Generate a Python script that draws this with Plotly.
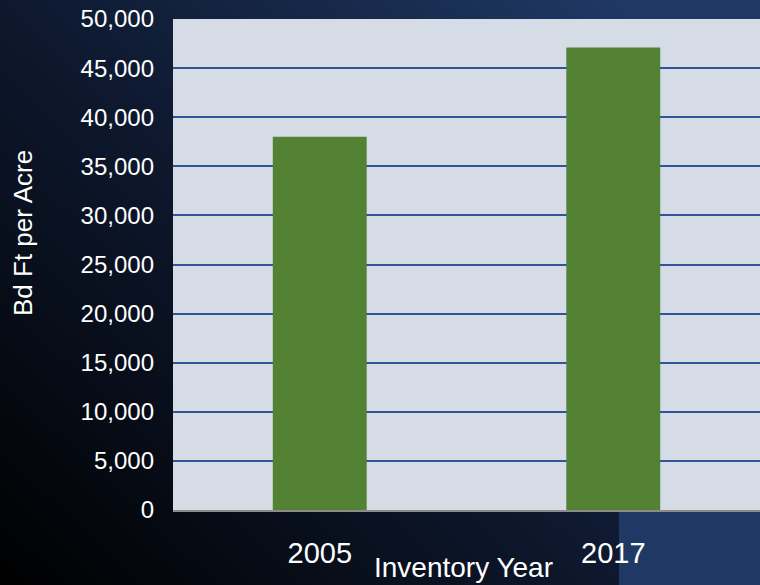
import base64
import plotly.graph_objects as go

# Inventory results: board feet per acre by inventory year
years = ["2005", "2017"]
bdft_per_acre = [38000, 47100]
y_ticks = [0, 5000, 10000, 15000, 20000, 25000, 30000, 35000, 40000, 45000, 50000]

W, H = 760, 585
ML, MR, MT, MB = 173, 0, 19, 75
PW, PH = W - ML - MR, H - MT - MB

FONT = "Liberation Sans, Arial, sans-serif"

# Slide backdrop: diagonal dark gradient with a flat navy strip on the right
svg = f"""<svg xmlns='http://www.w3.org/2000/svg' width='{W}' height='{H}' viewBox='0 0 {W} {H}'>
<defs><linearGradient id='g' x1='0' y1='1' x2='1' y2='0'>
<stop offset='0' stop-color='#000000'/>
<stop offset='0.55' stop-color='#0f1b33'/>
<stop offset='1' stop-color='#1f3864'/>
</linearGradient></defs>
<rect x='0' y='0' width='{W}' height='{H}' fill='#203864'/>
<rect x='0' y='0' width='619' height='{H}' fill='url(#g)'/>
</svg>"""
bg_src = "data:image/svg+xml;base64," + base64.b64encode(svg.encode()).decode()

fig = go.Figure(
    go.Bar(
        x=years,
        y=bdft_per_acre,
        marker=dict(color="#548235", line=dict(width=0)),
        width=0.32,
        hoverinfo="x+y",
    )
)

fig.add_layout_image(
    source=bg_src,
    xref="paper", yref="paper",
    x=-ML / PW, y=1 + MT / PH,
    sizex=W / PW, sizey=H / PH,
    xanchor="left", yanchor="top",
    sizing="stretch", layer="below",
)

# Plot area fill drawn above the backdrop
fig.add_shape(
    type="rect", xref="x domain", yref="y domain",
    x0=0, x1=1, y0=0, y1=1,
    fillcolor="#d6dce5", line=dict(width=0), layer="below",
)

fig.add_annotation(
    text="Bd Ft per Acre", textangle=-90,
    xref="paper", yref="paper",
    x=(23 - ML) / PW, y=(MT + PH - 233) / PH,
    xanchor="center", yanchor="middle", showarrow=False,
    font=dict(family=FONT, size=26, color="white"),
)
fig.add_annotation(
    text="Inventory Year",
    xref="paper", yref="paper",
    x=(463 - ML) / PW, y=(MT + PH - 567) / PH,
    xanchor="center", yanchor="middle", showarrow=False,
    font=dict(family=FONT, size=28, color="white"),
)

fig.update_layout(
    width=W, height=H,
    margin=dict(l=ML, r=MR, t=MT, b=MB, pad=0),
    paper_bgcolor="rgba(0,0,0,0)",
    plot_bgcolor="rgba(0,0,0,0)",
    showlegend=False,
    font=dict(family=FONT, color="white"),
    xaxis=dict(
        type="category",
        range=[-0.5, 1.5],
        showgrid=False,
        showline=True, linecolor="#8c8c8c", linewidth=1.5,
        ticks="", ticklabelstandoff=16,
        tickfont=dict(family=FONT, size=29, color="white"),
        zeroline=False,
    ),
    yaxis=dict(
        range=[0, 50000],
        tickvals=y_ticks,
        tickformat=",d",
        showgrid=True, gridcolor="#2f5597", gridwidth=1.8,
        zeroline=False, showline=False,
        ticks="", ticklabelstandoff=18,
        tickfont=dict(family=FONT, size=24, color="white"),
    ),
)

fig.write_html("out.html")
